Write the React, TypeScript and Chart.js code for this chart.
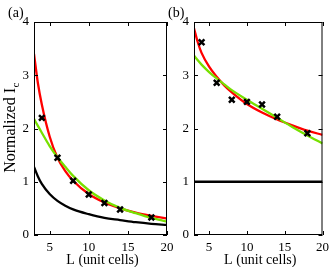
import React, { useEffect, useRef } from 'react';
import { Chart, registerables } from 'chart.js';
Chart.register(...registerables);

const L_CURVE = [3, 3.5, 4, 5, 6, 7, 8, 10, 12, 14, 16, 18, 20];
const A_RED = [3.4, 2.85, 2.45, 1.85, 1.45, 1.2, 1.02, 0.77, 0.61, 0.5, 0.42, 0.36, 0.31];
const A_GREEN = [2.18, 2.05, 1.92, 1.67, 1.46, 1.28, 1.11, 0.84, 0.65, 0.51, 0.41, 0.32, 0.25];
const A_BLACK = [1.28, 1.1, 0.96, 0.77, 0.64, 0.55, 0.48, 0.39, 0.32, 0.28, 0.24, 0.21, 0.19];
const B_RED = [3.88, 3.62, 3.42, 3.16, 2.97, 2.81, 2.68, 2.46, 2.3, 2.17, 2.06, 1.96, 1.88];
const B_GREEN = [3.37, 3.28, 3.2, 3.06, 2.94, 2.83, 2.72, 2.54, 2.37, 2.2, 2.03, 1.87, 1.72];
const B_BLACK = [1, 1, 1, 1, 1, 1, 1, 1, 1, 1, 1, 1, 1];
const L_POINTS = [4, 6, 8, 10, 12, 14, 18];
const A_POINTS = [2.2, 1.45, 1.02, 0.76, 0.6, 0.48, 0.33];
const B_POINTS = [3.62, 2.86, 2.54, 2.5, 2.45, 2.22, 1.91];
const X_TICKS = [5, 10, 15, 20];
const Y_TICKS = [0, 1, 2, 3, 4];
const X_LABEL = 'L (unit cells)';
const Y_LABEL = 'Normalized I';
const Y_LABEL_SUB = 'c';

const FONT = 'Liberation Serif';
const W = 334;
const H = 267;

function zip(xs: number[], ys: number[]) {
  return xs.map((x, i) => ({ x, y: ys[i] }));
}

function makePlugin(panel: string, showY: boolean, labelX: number) {
  return {
    id: 'frame' + panel,
    afterDraw(chart: any) {
      const ctx = chart.ctx as CanvasRenderingContext2D;
      const a = chart.chartArea;
      const xs = chart.scales.x;
      const ys = chart.scales.y;
      ctx.save();
      ctx.strokeStyle = '#000';
      ctx.lineWidth = 1;
      ctx.strokeRect(a.left + 0.5, a.top + 0.5, a.right - a.left - 1, a.bottom - a.top - 1);
      const tl = 4;
      ctx.beginPath();
      X_TICKS.forEach((v) => {
        const px = Math.round(xs.getPixelForValue(v)) + 0.5;
        ctx.moveTo(px, a.bottom);
        ctx.lineTo(px, a.bottom - tl);
        ctx.moveTo(px, a.top);
        ctx.lineTo(px, a.top + tl);
      });
      Y_TICKS.forEach((v) => {
        const py = Math.round(ys.getPixelForValue(v)) + 0.5;
        ctx.moveTo(a.left, py);
        ctx.lineTo(a.left + tl, py);
        ctx.moveTo(a.right, py);
        ctx.lineTo(a.right - tl, py);
      });
      ctx.stroke();
      ctx.fillStyle = '#000';
      ctx.font = `14px "${FONT}"`;
      ctx.textAlign = 'center';
      ctx.textBaseline = 'alphabetic';
      ctx.fillText(X_LABEL, (a.left + a.right) / 2 + 2, 264);
      ctx.textAlign = 'left';
      ctx.textBaseline = 'middle';
      ctx.fillText(panel, labelX, 13);
      if (showY) {
        ctx.save();
        ctx.translate(15, 128);
        ctx.rotate(-Math.PI / 2);
        ctx.textBaseline = 'alphabetic';
        ctx.font = `16px "${FONT}"`;
        const w1 = ctx.measureText(Y_LABEL).width;
        ctx.font = `11px "${FONT}"`;
        const w2 = ctx.measureText(Y_LABEL_SUB).width;
        const start = -(w1 + w2) / 2;
        ctx.font = `16px "${FONT}"`;
        ctx.textAlign = 'left';
        ctx.fillText(Y_LABEL, start, 0);
        ctx.font = `11px "${FONT}"`;
        ctx.fillText(Y_LABEL_SUB, start + w1 + 0.5, 4);
        ctx.restore();
      }
      ctx.restore();
    },
  };
}

function buildConfig(red: number[], green: number[], black: number[], pts: number[], panel: string, left: number, right: number, showY: boolean, labelX: number): any {
  const lw = 2.3;
  return {
    type: 'line',
    data: {
      datasets: [
        {
          data: zip(L_POINTS, pts),
          showLine: false,
          pointStyle: 'crossRot',
          pointRadius: 4,
          pointBorderWidth: 2.5,
          borderColor: '#000',
          backgroundColor: '#000',
        },
        { data: zip(L_CURVE, green), borderColor: '#77e000', borderWidth: lw, pointRadius: 0, cubicInterpolationMode: 'monotone' },
        { data: zip(L_CURVE, red), borderColor: '#ff0000', borderWidth: lw, pointRadius: 0, cubicInterpolationMode: 'monotone' },
        { data: zip(L_CURVE, black), borderColor: '#000000', borderWidth: lw, pointRadius: 0, cubicInterpolationMode: 'monotone' },
      ],
    },
    options: {
      responsive: false,
      animation: false,
      devicePixelRatio: 1,
      events: [],
      layout: { padding: { left: left - 30, right: W - right, top: 22, bottom: 7 } },
      plugins: { legend: { display: false }, tooltip: { enabled: false } },
      scales: {
        x: {
          type: 'linear',
          min: 3,
          max: 20,
          afterBuildTicks: (s: any) => { s.ticks = X_TICKS.map((v) => ({ value: v })); },
          afterFit: (s: any) => { s.height = 25; },
          grid: { display: false, drawTicks: false },
          border: { display: false },
          ticks: { color: '#000', font: { family: FONT, size: 13 }, padding: 5, maxRotation: 0, autoSkip: false },
        },
        y: {
          type: 'linear',
          min: 0,
          max: 4,
          afterBuildTicks: (s: any) => { s.ticks = Y_TICKS.map((v) => ({ value: v })); },
          afterFit: (s: any) => { s.width = 30; },
          grid: { display: false, drawTicks: false },
          border: { display: false },
          ticks: { color: '#000', font: { family: FONT, size: 13 }, padding: 5 },
        },
      },
    },
    plugins: [makePlugin(panel, showY, labelX)],
  };
}

export default function App() {
  const refA = useRef<HTMLCanvasElement>(null);
  const refB = useRef<HTMLCanvasElement>(null);
  useEffect(() => {
    const ca = new Chart(refA.current as HTMLCanvasElement, buildConfig(A_RED, A_GREEN, A_BLACK, A_POINTS, '(a)', 34, 167, true, 8));
    const cb = new Chart(refB.current as HTMLCanvasElement, buildConfig(B_RED, B_GREEN, B_BLACK, B_POINTS, '(b)', 194, 327, false, 168));
    return () => { ca.destroy(); cb.destroy(); };
  }, []);
  const cs: React.CSSProperties = { position: 'absolute', left: 0, top: 0, width: W, height: H };
  return (
    <div style={{ position: 'fixed', left: 0, top: 0, width: W, height: H, background: '#fff' }}>
      <canvas ref={refA} width={W} height={H} style={cs} />
      <canvas ref={refB} width={W} height={H} style={cs} />
    </div>
  );
}
